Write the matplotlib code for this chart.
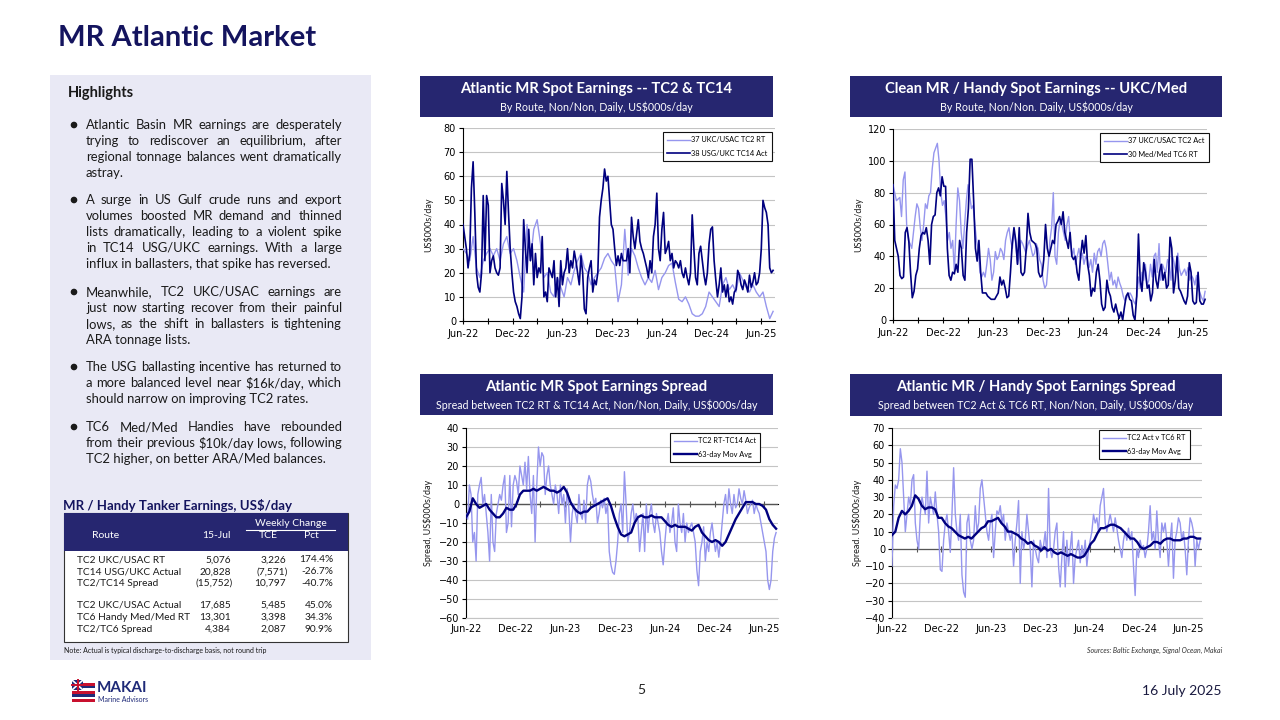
import matplotlib
matplotlib.use("Agg")
import matplotlib.pyplot as plt
import matplotlib.dates as mdates
from matplotlib.ticker import NullFormatter
from matplotlib.patches import Rectangle, Circle
import pandas as pd

NAVY = "#14145E"
HEAD = "#262670"
DARK = "#00007F"
LIGHT = "#9696EE"
PANEL = "#E9E9F5"

# ---- chart data (US$000s/day) ----
START, END = "2022-06-01", "2025-07-15"

tc2_rt = [30, 28, 25, 35, 22, 18, 25, 28, 30, 27, 30, 25, 32, 35, 28, 30, 25, 18, 12, 40,
          25, 38, 42, 32, 18, 20, 12, 10, 18, 14, 10, 18, 15, 21, 25, 28, 22, 20, 15, 18,
          20, 22, 26, 28, 25, 23, 8, 15, 38, 19, 30, 27, 22, 18, 15, 18, 16, 21, 13, 18,
          20, 23, 24, 16, 9, 8, 10, 7, 3, 2, 2, 3, 6, 12, 10, 8, 6, 15, 18, 13,
          15, 12, 20, 17, 14, 12, 15, 12, 10, 12, 6, 1, 4]

tc14_act = [40, 35, 30, 22, 28, 55, 66, 45, 20, 14, 12, 20, 52, 25, 52, 48, 20, 25, 27, 22,
            20, 19, 22, 57, 50, 40, 62, 45, 30, 20, 12, 8, 6, 3, 1, 10, 42, 30, 20, 38,
            25, 32, 15, 28, 18, 22, 20, 35, 10, 12, 8, 22, 20, 18, 25, 10, 18, 6, 25, 15,
            20, 22, 30, 20, 25, 22, 29, 25, 20, 15, 27, 20, 5, 3, 18, 22, 25, 12, 17, 15,
            20, 43, 50, 55, 63, 58, 60, 50, 40, 38, 30, 23, 27, 23, 28, 25, 25, 25, 30, 20,
            43, 35, 30, 36, 42, 33, 30, 28, 25, 22, 18, 25, 20, 35, 40, 53, 30, 25, 38, 45,
            28, 30, 33, 25, 28, 22, 25, 24, 22, 25, 20, 18, 22, 18, 15, 20, 44, 30, 18, 15,
            28, 31, 25, 19, 15, 20, 32, 38, 39, 25, 17, 10, 15, 22, 12, 15, 10, 15, 8, 10,
            7, 12, 13, 21, 19, 15, 13, 17, 15, 12, 19, 14, 16, 20, 15, 16, 20, 30, 50, 47,
            45, 40, 22, 20, 21]

tc2_act = [85, 80, 75, 76, 77, 65, 88, 93, 60, 50, 48, 45, 55, 65, 73, 70, 58, 50, 60, 73,
           70, 78, 80, 95, 105, 108, 111, 100, 80, 72, 75, 65, 50, 55, 45, 50, 30, 60, 83, 75,
           55, 45, 60, 75, 85, 78, 70, 72, 60, 50, 44, 30, 27, 30, 27, 35, 45, 38, 25, 30,
           43, 38, 40, 45, 43, 38, 50, 55, 58, 50, 45, 55, 48, 35, 40, 50, 48, 45, 42, 47,
           50, 45, 40, 42, 48, 45, 38, 35, 25, 20, 22, 35, 50, 58, 80, 40, 35, 55, 63, 60,
           55, 50, 60, 65, 50, 40, 45, 35, 40, 45, 38, 42, 35, 40, 38, 33, 38, 30, 42, 35,
           43, 45, 40, 48, 50, 45, 35, 25, 30, 22, 25, 20, 27, 23, 20, 15, 12, 14, 16, 17,
           15, 12, 10, 15, 27, 20, 30, 25, 35, 22, 25, 35, 27, 40, 42, 30, 48, 25, 35, 32,
           30, 38, 35, 25, 40, 35, 30, 42, 32, 28, 30, 32, 28, 33, 25, 28, 26, 22, 28, 20,
           17, 14, 12, 18]

tc6_rt = [85, 50, 45, 40, 28, 26, 27, 55, 58, 50, 30, 14, 18, 28, 32, 45, 53, 55, 54, 58,
          50, 35, 60, 65, 66, 80, 83, 78, 90, 84, 84, 45, 28, 25, 30, 29, 35, 30, 50, 45,
          28, 25, 55, 70, 101, 101, 75, 45, 37, 50, 30, 17, 17, 17, 15, 14, 13, 13, 13, 15,
          17, 27, 22, 25, 20, 14, 15, 30, 48, 58, 50, 35, 58, 30, 28, 30, 45, 67, 55, 50,
          49, 48, 45, 30, 27, 28, 38, 60, 45, 40, 45, 50, 48, 60, 62, 65, 60, 68, 55, 50,
          45, 55, 40, 38, 40, 30, 25, 40, 50, 42, 53, 35, 28, 15, 20, 18, 30, 35, 25, 10,
          6, 8, 25, 18, 15, 8, 5, 10, 5, 1, 5, 0, 8, 15, 17, 13, 12, 3, 0, 15,
          54, 25, 18, 36, 30, 20, 22, 12, 17, 38, 25, 20, 30, 35, 25, 30, 20, 22, 52, 45,
          17, 25, 40, 20, 18, 15, 12, 10, 15, 36, 30, 12, 10, 11, 30, 12, 10, 10, 13]

spread_tc14 = [-5, -8, 10, 5, -20, -15, -30, 5, 10, 14, 0, 5, -5, -15, -30, 5, -20, -25, -5, 0,
               5, 2, 10, 15, -15, -10, 15, -12, 10, 15, 12, 5, 20, 15, 10, 22, 8, 25, 5, -5,
               15, -20, 10, 30, 20, 27, 25, 5, 15, 20, 10, 5, 0, 10, 5, -5, 10, 0, 5, -10,
               8, -2, -20, -5, 0, -5, -10, 5, -5, -8, 2, -10, 10, 15, 12, 5, 0, 3, -10, -5,
               2, -2, 3, -5, 0, -25, -32, -36, -37, -30, -20, -5, 0, -15, 17, 0, -20, -15, -5, 0,
               -10, -5, -8, -25, -15, -5, -25, 0, -15, -5, 0, -10, -15, -5, -10, -15, -25, -32, -20, -10,
               -5, -15, -10, -2, -20, -25, 0, -10, -15, -5, -20, -10, -15, -12, -10, -15, -20, -35, -43, -25,
               -20, -12, -30, -20, -25, -15, -10, -18, -25, -20, -28, -20, -10, 0, 5, -5, 8, 0, -5, 5,
               -2, 0, 8, 3, 0, 7, 2, -5, -2, 0, 2, -5, 0, -3, -5, -10, -15, -20, -25, -40,
               -45, -40, -25, -18, -15]

spread_tc14_ma = [-7, -4, 3, 0, -2, -1, 0, -3, -5, -7, -7, -5, -2, -3, -3, 0, 5, 7, 7, 7,
                  8, 7, 8, 9, 8, 7, 7, 6, 7, 9, 6, 1, -2, -4, -5, -4, -4, -2, -1, 0,
                  1, 2, 3, -1, -7, -12, -16, -17, -16, -15, -10, -7, -6, -7, -7, -6, -7, -7, -7, -9,
                  -11, -12, -11, -12, -12, -12, -13, -14, -12, -11, -15, -17, -19, -20, -19, -20, -22, -20, -16, -12,
                  -8, -5, -2, 1, 1, 1, 0, 0, -1, -3, -8, -11, -13]

spread_tc6 = [-10, 25, 37, 35, 40, 58, 50, 30, 10, 20, 30, 25, 40, 43, 15, 5, 0, 20, 30, 25,
              20, 45, 15, 30, 25, 20, 33, 20, 10, -12, -13, 5, 15, 20, 10, -2, 20, 47, 20, 10,
              5, 20, -15, -25, -28, 15, 20, 5, 0, 5, 25, 10, 15, 35, 40, 30, 20, 10, 5, 15,
              20, -5, 10, 22, 20, 25, 15, 20, 5, 15, 10, 5, 10, -10, 5, 15, 28, -20, 10, 0,
              5, 20, 10, 0, -22, 5, 0, -5, -8, 5, 0, 2, 10, -5, 35, 0, -5, 0, 10, 15,
              -10, -22, -5, 10, -22, 5, -10, 0, 10, -20, -5, 0, 5, -8, 2, -5, 5, -10, 0, 5,
              10, 20, 15, 18, 10, 25, 30, 35, 15, 10, 15, 20, 15, 10, 18, 12, 5, 0, -5, 5,
              10, 5, 12, 5, 10, -10, -27, 0, -5, 5, 0, 2, -5, 0, 10, 25, 5, 10, 0, 22,
              5, -5, 15, 10, 15, 5, -10, 5, 15, -17, 5, 10, 18, 15, 5, 10, 0, -15, 5, 18,
              15, 10, -10, 5, 0, 5]

spread_tc6_ma = [8, 10, 18, 22, 20, 22, 25, 31, 29, 25, 23, 24, 24, 23, 18, 18, 15, 13, 12, 10,
                 8, 7, 6, 7, 6, 8, 10, 12, 13, 16, 16, 17, 18, 15, 13, 10, 10, 9, 8, 6,
                 5, 3, 4, 2, 1, -1, 1, -1, 0, -2, -3, -2, -3, -4, -3, -4, -5, -5, -4, -1,
                 3, 5, 9, 12, 12, 13, 14, 14, 13, 12, 10, 8, 6, 6, 4, 1, 0, 1, 2, 4,
                 4, 3, 5, 6, 6, 5, 5, 5, 6, 6, 7, 7, 6, 6]

# ---- table data ----
table_routes = ["TC2 UKC/USAC RT", "TC14 USG/UKC Actual", "TC2/TC14 Spread",
                "TC2 UKC/USAC Actual", "TC6 Handy Med/Med RT", "TC2/TC6 Spread"]
table_latest = ["5,076", "20,828", "(15,752)", "17,685", "13,301", "4,384"]
table_tce = ["3,226", "(7,571)", "10,797", "5,485", "3,398", "2,087"]
table_pct = ["174.4%", "-26.7%", "-40.7%", "45.0%", "34.3%", "90.9%"]

bullets = [
    ["Atlantic Basin MR earnings are desperately",
     "trying to rediscover an equilibrium, after",
     "regional tonnage balances went dramatically",
     "astray."],
    ["A surge in US Gulf crude runs and export",
     "volumes boosted MR demand and thinned",
     "lists dramatically, leading to a violent spike",
     "in TC14 USG/UKC earnings. With a large",
     "influx in ballasters, that spike has reversed."],
    ["Meanwhile, TC2 UKC/USAC earnings are",
     "just now starting recover from their painful",
     "lows, as the shift in ballasters is tightening",
     "ARA tonnage lists."],
    ["The USG ballasting incentive has returned to",
     "a more balanced level near $16k/day, which",
     "should narrow on improving TC2 rates."],
    ["TC6 Med/Med Handies have rebounded",
     "from their previous $10k/day lows, following",
     "TC2 higher, on better ARA/Med balances."],
]

plt.rcParams["font.family"] = ["Lato", "DejaVu Sans"]

fig = plt.figure(figsize=(12.8, 7.2), dpi=100)
bg = fig.add_axes([0, 0, 1, 1], zorder=0)
bg.set_xlim(0, 1280)
bg.set_ylim(720, 0)
bg.axis("off")
renderer = fig.canvas.get_renderer()


def justified(lines, x0, x1, y0, step, **kw):
    for i, line in enumerate(lines):
        y = y0 + i * step
        words = line.split()
        if i == len(lines) - 1 or len(words) == 1:
            bg.text(x0, y, line, va="center", ha="left", **kw)
            continue
        arts = [bg.text(0, y, w, va="center", ha="left", **kw) for w in words]
        widths = [a.get_window_extent(renderer).width for a in arts]
        gap = max((x1 - x0 - sum(widths)) / (len(words) - 1), 2.5)
        x = x0
        for a, w in zip(arts, widths):
            a.set_x(x)
            x += w + gap


# title
bg.text(58, 38, "MR Atlantic Market", fontsize=21, fontweight="bold", color=NAVY,
        va="center", ha="left")

# left panel
bg.add_patch(Rectangle((50, 75), 321, 585, color=PANEL, lw=0))
bg.text(68, 93, "Highlights", fontsize=10.5, fontweight="bold", color="#1A1A1A", va="center")
starts = [125, 200, 292, 367, 427]
for lines, y0 in zip(bullets, starts):
    bg.add_patch(Circle((74, y0), 2.6, color="#1A1A1A"))
    justified(lines, 86, 342, y0, 16, fontsize=9.4, color="#1A1A1A")

# table
bg.text(63, 505, "MR / Handy Tanker Earnings, US$/day", fontsize=9.5, fontweight="bold",
        color=NAVY, va="center")
bg.add_patch(Rectangle((64, 513), 284, 129, facecolor="white", edgecolor="#333333", lw=0.8))
bg.add_patch(Rectangle((64, 513), 284, 38, color=HEAD, lw=0))
hkw = dict(color="white", fontsize=7.5, va="center", ha="center")
bg.text(291, 523, "Weekly Change", **hkw)
bg.plot([246, 335], [529.5, 529.5], color="white", lw=0.8)
bg.text(106, 535, "Route", **hkw)
bg.text(216, 535, "15-Jul", **hkw)
bg.text(268, 535, "TCE", **hkw)
bg.text(311, 535, "Pct", **hkw)
row_y = [560, 572, 583, 605, 617, 629]
rkw = dict(color="#1A1A1A", fontsize=7.3, va="center")
for y, route, v1, v2, v3 in zip(row_y, table_routes, table_latest, table_tce, table_pct):
    bg.text(77, y, route, ha="left", **rkw)
    bg.text(233 if v1.startswith("(") else 231, y, v1, ha="right", **rkw)
    bg.text(288 if v2.startswith("(") else 286, y, v2, ha="right", **rkw)
    bg.text(333, y, v3, ha="right", **rkw)
bg.text(64, 650, "Note: Actual is typical discharge-to-discharge basis, not round trip",
        fontsize=5, color="#1A1A1A", va="center")

xmin, xmax = pd.Timestamp("2022-06-01"), pd.Timestamp("2025-07-22")


def chart(box, head, title, sub, series, ylim, ystep, ylabel, ylab_x, leg_xy, spread):
    l, t, r, b = box
    hx0, hy0, hx1, hy1 = head
    bg.add_patch(Rectangle((hx0, hy0), hx1 - hx0, hy1 - hy0, color=HEAD, lw=0))
    cx = (hx0 + hx1) / 2
    bg.text(cx, hy0 + 13, title, color="white", fontsize=10.6, fontweight="bold",
            ha="center", va="center")
    bg.text(cx, hy0 + 31, sub, color="white", fontsize=7.7, ha="center", va="center")
    bg.text(ylab_x, (t + b) / 2, ylabel, rotation=90, fontsize=6.5, ha="center",
            va="center", color="#1A1A1A")

    ax = fig.add_axes([l / 1280, 1 - b / 720, (r - l) / 1280, (b - t) / 720], zorder=2)
    for vals, color, lw, label in series:
        dates = pd.date_range(START, END, periods=len(vals))
        ax.plot(dates, vals, color=color, lw=lw, label=label, zorder=3)
    ax.set_xlim(xmin, xmax)
    ax.set_ylim(*ylim)
    ax.set_yticks(range(ylim[0], ylim[1] + 1, ystep))
    ax.yaxis.grid(True, color="#C4C4C4", lw=0.8)
    ax.set_axisbelow(True)
    for s in ("top", "right"):
        ax.spines[s].set_visible(False)
    ax.spines["left"].set_linewidth(0.8)
    ax.tick_params(axis="y", length=3, width=0.8, labelsize=7, pad=2)
    for lab in ax.get_yticklabels():
        lab.set_family("DejaVu Sans")

    ax.xaxis.set_major_locator(mdates.MonthLocator(bymonth=[6, 12]))
    ax.xaxis.set_minor_locator(mdates.MonthLocator(bymonth=[3, 9]))
    ax.xaxis.set_major_formatter(mdates.DateFormatter("%b-%y"))
    if spread:
        ax.spines["bottom"].set_color("#C4C4C4")
        ax.tick_params(axis="x", which="both", length=0, labelsize=7, pad=4)
        ax.axhline(0, color="#555555", lw=0.9, zorder=2)
        zero = -ylim[0] / (ylim[1] - ylim[0])
        sec = ax.secondary_xaxis(zero)
        sec.xaxis.set_major_locator(mdates.MonthLocator(bymonth=[6, 12]))
        sec.xaxis.set_minor_locator(mdates.MonthLocator(bymonth=[3, 9]))
        sec.xaxis.set_major_formatter(NullFormatter())
        sec.xaxis.set_minor_formatter(NullFormatter())
        sec.tick_params(axis="x", which="both", direction="inout", length=5, width=0.8,
                        color="#555555", labelbottom=False, labeltop=False)
        sec.spines["bottom"].set_visible(False)
    else:
        ax.spines["bottom"].set_linewidth(0.8)
        ax.tick_params(axis="x", which="both", direction="inout", length=5, width=0.8,
                       labelsize=7, pad=3)
    for lab in ax.get_xticklabels():
        lab.set_family("DejaVu Sans")

    fx = (leg_xy[0] - l) / (r - l)
    fy = 1 - (leg_xy[1] - t) / (b - t)
    leg = ax.legend(loc="upper left", bbox_to_anchor=(fx, fy), borderaxespad=0,
                    fontsize=5.3, frameon=True, fancybox=False, framealpha=1,
                    edgecolor="#111111", handlelength=3.0, handletextpad=0.2,
                    labelspacing=0.9, borderpad=0.6)
    leg.get_frame().set_linewidth(0.8)
    leg.set_zorder(5)
    return ax


chart((463, 128, 775, 321), (420, 76, 773, 117),
      "Atlantic MR Spot Earnings -- TC2 & TC14",
      "By Route, Non/Non, Daily, US$000s/day",
      [(tc2_rt, LIGHT, 1.0, "37 UKC/USAC TC2 RT"),
       (tc14_act, DARK, 1.2, "38 USG/UKC TC14 Act")],
      (0, 80), 10, "US$000s/day", 428, (663, 132), False)

chart((893, 129, 1207, 320), (850, 76, 1222, 117),
      "Clean MR / Handy Spot Earnings -- UKC/Med",
      "By Route, Non/Non. Daily, US$000s/day",
      [(tc2_act, LIGHT, 1.0, "37 UKC/USAC TC2 Act"),
       (tc6_rt, DARK, 1.2, "30 Med/Med TC6 RT")],
      (0, 120), 20, "US$000s/day", 858, (1100, 133), False)

chart((466, 428, 778, 618), (420, 374, 773, 415),
      "Atlantic MR Spot Earnings Spread",
      "Spread between TC2 RT & TC14 Act, Non/Non, Daily, US$000s/day",
      [(spread_tc14, LIGHT, 1.0, "TC2 RT-TC14 Act"),
       (spread_tc14_ma, DARK, 1.7, "63-day Mov Avg")],
      (-60, 40), 10, "Spread, US$000s/day", 428, (670, 433), True)

chart((892, 428, 1202, 618), (850, 374, 1222, 416),
      "Atlantic MR / Handy Spot Earnings Spread",
      "Spread between TC2 Act & TC6 RT, Non/Non, Daily, US$000s/day",
      [(spread_tc6, LIGHT, 1.0, "TC2 Act v TC6 RT"),
       (spread_tc6_ma, DARK, 1.7, "63-day Mov Avg")],
      (-40, 70), 10, "Spread. US$000s/day", 857, (1099, 430), True)

bg.text(1222, 650, "Sources: Baltic Exchange, Signal Ocean, Makai", fontsize=5,
        style="italic", ha="right", va="center", color="#333333")

# footer: logo, page, date
stripes = ["white", "#C8102E", "#1F2A78", "white", "#C8102E", "#1F2A78", "white", "#C8102E"]
for i, c in enumerate(stripes):
    bg.add_patch(Rectangle((72, 680 + i * 2.75), 23, 2.75, color=c, lw=0))
bg.add_patch(Rectangle((72, 680), 11, 10, color="#1F2A78", lw=0))
bg.plot([72, 83], [680, 690], color="white", lw=1.2)
bg.plot([72, 83], [690, 680], color="white", lw=1.2)
bg.plot([77.5, 77.5], [680, 690], color="#C8102E", lw=1.4)
bg.plot([72, 83], [685, 685], color="#C8102E", lw=1.4)
bg.text(97, 688, "MAKAI", fontsize=11, fontweight="bold", color="#1F2A78", va="center")
bg.text(98, 699, "Marine Advisors", fontsize=5, color="#1F2A78", va="center")
bg.text(641, 690, "5", fontsize=10, color="#222222", ha="center", va="center")
bg.text(1222, 691, "16 July 2025", fontsize=10, color="#1A1A40", ha="right", va="center")

fig.savefig("out.png", dpi=100)
